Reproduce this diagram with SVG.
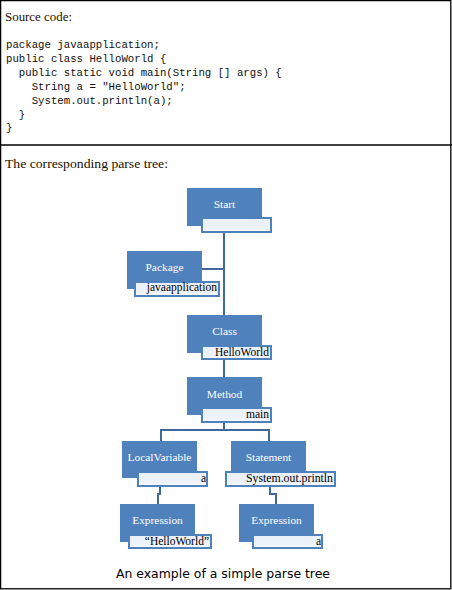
<svg xmlns="http://www.w3.org/2000/svg" width="452" height="590" viewBox="0 0 452 590">
<defs>
<linearGradient id="lbl" x1="0" y1="0" x2="0" y2="1">
<stop offset="0" stop-color="#e9eff8"/>
<stop offset="0.75" stop-color="#eef3fa"/>
<stop offset="1" stop-color="#ffffff"/>
</linearGradient>
</defs>
<style>
.frame{fill:#fff;stroke:#000;stroke-width:1.3}
.title{font-family:"Liberation Serif",serif;font-size:13px;fill:#1a1000}
.code{font-family:"Liberation Mono",monospace;font-size:10.7px;fill:#101010;white-space:pre}
.cap{font-family:"DejaVu Sans",sans-serif;font-size:12px;fill:#000}
.node{fill:#4f81bd}
.box{fill:url(#lbl);stroke:#4f81bd;stroke-width:2}
.nt{font-family:"Liberation Serif",serif;font-size:11.4px;fill:#fff;text-anchor:middle}
.lt{font-family:"Liberation Serif",serif;font-size:11.5px;fill:#000;text-anchor:end}
.conn{fill:none;stroke:#41699c;stroke-width:2}
</style>
<rect class="frame" x="0.6" y="0.6" width="450.2" height="588.2"/>
<line x1="0" y1="145" x2="452" y2="145" stroke="#000" stroke-width="1.3"/>
<text class="title" x="5" y="21" textLength="67" lengthAdjust="spacingAndGlyphs">Source code:</text>
<text class="code" x="6" y="48">package javaapplication;</text>
<text class="code" x="6" y="62">public class HelloWorld {</text>
<text class="code" x="6" y="76">  public static void main(String [] args) {</text>
<text class="code" x="6" y="90">    String a = "HelloWorld";</text>
<text class="code" x="6" y="104">    System.out.println(a);</text>
<text class="code" x="6" y="118">  }</text>
<text class="code" x="6" y="131">}</text>
<text class="title" x="5" y="168" textLength="163" lengthAdjust="spacingAndGlyphs">The corresponding parse tree:</text>
<g id="connectors">
<path class="conn" d="M224,232 V315"/>
<path class="conn" d="M202,269 H224"/>
<path class="conn" d="M224,359 V377"/>
<path class="conn" d="M224,422 V430 M161,441 V430 H269 V441"/>
<path class="conn" d="M160,486 V494 H158 V504"/>
<path class="conn" d="M270,486 V494 H276 V504"/>
</g>
<g id="start">
<rect class="node" x="187" y="188" width="75" height="38"/>
<text class="nt" x="224.5" y="208">Start</text>
<rect class="box" x="202" y="218" width="69" height="14"/>
</g>
<g id="package">
<rect class="node" x="127" y="251" width="75" height="38"/>
<text class="nt" x="164.5" y="271">Package</text>
<rect class="box" x="135" y="282" width="84" height="14"/>
<text class="lt" x="217" y="291">javaapplication</text>
</g>
<g id="class">
<rect class="node" x="187" y="315" width="75" height="38"/>
<text class="nt" x="224.5" y="335">Class</text>
<rect class="box" x="202" y="346" width="69" height="13"/>
<text class="lt" x="269" y="356">HelloWorld</text>
</g>
<g id="method">
<rect class="node" x="187" y="377" width="75" height="38"/>
<text class="nt" x="224.5" y="398">Method</text>
<rect class="box" x="202" y="408" width="69" height="14"/>
<text class="lt" x="269" y="418">main</text>
</g>
<g id="localvariable">
<rect class="node" x="122" y="441" width="75" height="37"/>
<text class="nt" x="159.5" y="461">LocalVariable</text>
<rect class="box" x="138" y="472" width="69" height="14"/>
<text class="lt" x="206" y="482">a</text>
</g>
<g id="statement">
<rect class="node" x="231" y="441" width="75" height="37"/>
<text class="nt" x="268.5" y="461">Statement</text>
<rect class="box" x="226" y="472" width="109" height="14"/>
<text class="lt" x="333" y="482" textLength="87" lengthAdjust="spacingAndGlyphs">System.out.println</text>
</g>
<g id="expression1">
<rect class="node" x="120" y="504" width="75" height="38"/>
<text class="nt" x="157.5" y="524">Expression</text>
<rect class="box" x="129" y="535" width="82" height="13"/>
<text class="lt" x="209" y="545">“HelloWorld”</text>
</g>
<g id="expression2">
<rect class="node" x="239" y="504" width="75" height="38"/>
<text class="nt" x="276.5" y="524">Expression</text>
<rect class="box" x="253" y="535" width="69" height="13"/>
<text class="lt" x="321" y="545">a</text>
</g>
<text class="cap" x="223" y="578" text-anchor="middle" textLength="214" lengthAdjust="spacingAndGlyphs">An example of a simple parse tree</text>
</svg>
